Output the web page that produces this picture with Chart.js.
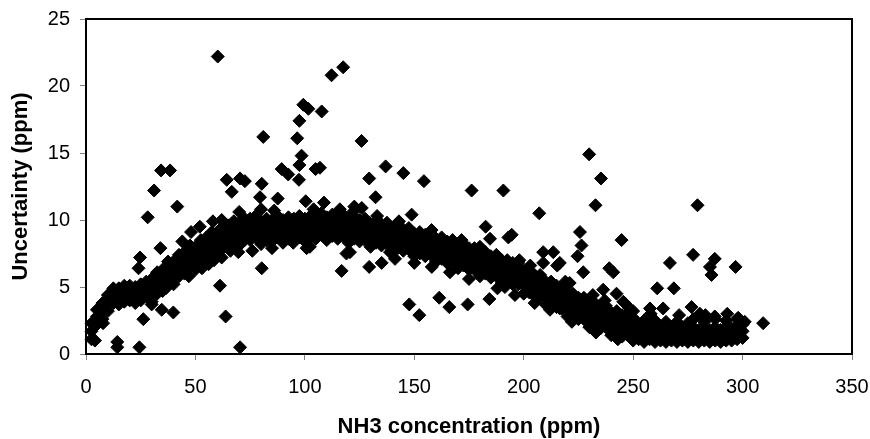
<!DOCTYPE html>
<html>
<head>
<meta charset="utf-8">
<script src="https://cdn.jsdelivr.net/npm/chart.js@4"></script>
<style>
  body { margin: 0; background: #fff; }
  canvas { display: block; }
</style>
</head>
<body>
<canvas id="chart" width="870" height="439"></canvas>
<script>
// axis ticks
const xTicks = [0, 50, 100, 150, 200, 250, 300, 350];
const yTicks = [0, 5, 10, 15, 20, 25];

// main band: [concentration, [uncertainty values read at that concentration]]
const bandRows = [
    [2.5, [1.1, 1.7, 2.3]], [5, [2.2, 2.8, 3.3]], [7.5, [2.6, 3.2, 3.8]], [10, [3.2, 3.8, 4.4]],
    [12.5, [3.8, 4.4, 4.9]], [15, [3.7, 4.3, 4.9]], [17.5, [3.9, 4.5, 5.1]], [20, [4.0, 4.6, 5.1]],
    [22.5, [3.8, 4.4, 5.0]], [25, [4.0, 4.6, 5.2]], [27.5, [4.3, 4.9, 5.4]], [30, [3.9, 4.5, 5.0, 5.6]],
    [32.5, [4.5, 5.0, 5.6, 6.1]], [35, [4.7, 5.2, 5.8, 6.3]], [37.5, [5.3, 5.9, 6.4, 6.9]], [40, [5.2, 5.8, 6.3, 6.9]],
    [42.5, [5.8, 6.3, 6.9, 7.4]], [45, [6.0, 6.5, 7.1, 7.6]], [47.5, [6.5, 7.1, 7.6, 8.1]], [50, [6.3, 6.9, 7.4, 8.0]],
    [52.5, [6.9, 7.4, 8.0, 8.5]], [55, [7.1, 7.6, 8.2, 8.7]], [57.5, [7.5, 8.1, 8.6, 9.1]], [60, [7.4, 8.0, 8.5, 9.1]],
    [62.5, [7.9, 8.4, 9.0, 9.5]], [65, [8.0, 8.5, 9.1, 9.6]], [67.5, [8.3, 8.9, 9.4, 9.9]], [70, [8.1, 8.7, 9.2, 9.8]],
    [72.5, [8.5, 9.0, 9.6, 10.1]], [75, [8.5, 9.0, 9.6, 10.1]], [77.5, [8.7, 9.3, 9.8, 10.3]], [80, [8.2, 8.8, 9.3, 9.9]],
    [82.5, [8.5, 9.0, 9.6, 10.1]], [85, [8.4, 8.9, 9.5, 10.0]], [87.5, [8.7, 9.3, 9.8, 10.3]], [90, [8.3, 8.9, 9.4, 10.0]],
    [92.5, [8.6, 9.1, 9.7, 10.2]], [95, [8.5, 9.0, 9.6, 10.1]], [97.5, [8.7, 9.3, 9.8, 10.3]], [100, [8.4, 9.0, 9.5, 10.1]],
    [102.5, [8.7, 9.2, 9.8, 10.3]], [105, [8.6, 9.1, 9.7, 10.2]], [107.5, [8.9, 9.5, 10.0, 10.5]], [110, [8.5, 9.1, 9.6, 10.2]],
    [112.5, [8.8, 9.3, 9.9, 10.4]], [115, [8.6, 9.1, 9.7, 10.2]], [117.5, [8.8, 9.4, 9.9, 10.4]], [120, [8.3, 8.9, 9.4, 10.0]],
    [122.5, [8.6, 9.1, 9.7, 10.2]], [125, [8.4, 8.9, 9.5, 10.0]], [127.5, [8.5, 9.1, 9.6, 10.1]], [130, [8.0, 8.6, 9.1, 9.7]],
    [132.5, [8.3, 8.8, 9.4, 9.9]], [135, [8.1, 8.6, 9.2, 9.7]], [137.5, [8.2, 8.8, 9.3, 9.8]], [140, [7.7, 8.3, 8.8, 9.4]],
    [142.5, [7.9, 8.4, 9.0, 9.5]], [145, [7.7, 8.2, 8.8, 9.3]], [147.5, [7.8, 8.4, 8.9, 9.4]], [150, [7.3, 7.9, 8.4, 9.0]],
    [152.5, [7.5, 8.0, 8.6, 9.1]], [155, [7.3, 7.8, 8.4, 8.9]], [157.5, [7.4, 8.0, 8.5, 9.0]], [160, [6.9, 7.5, 8.0, 8.6]],
    [162.5, [7.1, 7.6, 8.2, 8.7]], [165, [6.8, 7.3, 7.9, 8.4]], [167.5, [6.9, 7.5, 8.0, 8.5]], [170, [6.4, 7.0, 7.5, 8.1]],
    [172.5, [6.6, 7.1, 7.7, 8.2]], [175, [6.3, 6.8, 7.4, 7.9]], [177.5, [6.3, 6.9, 7.4, 7.9]], [180, [5.8, 6.4, 6.9, 7.5]],
    [182.5, [6.0, 6.5, 7.1, 7.6]], [185, [5.7, 6.2, 6.8, 7.3]], [187.5, [5.8, 6.4, 6.9, 7.4]], [190, [5.3, 5.9, 6.4, 7.0]],
    [192.5, [5.4, 5.9, 6.5, 7.0]], [195, [5.2, 5.7, 6.3, 6.8]], [197.5, [5.2, 5.8, 6.3, 6.8]], [200, [4.5, 5.1, 5.6, 6.2]],
    [202.5, [4.6, 5.1, 5.7, 6.2]], [205, [4.3, 4.8, 5.4, 5.9]], [207.5, [4.3, 4.9, 5.4, 5.9]], [210, [3.7, 4.3, 4.8, 5.4]],
    [212.5, [3.8, 4.3, 4.9, 5.4]], [215, [3.5, 4.0, 4.6, 5.1]], [217.5, [3.4, 4.0, 4.5, 5.0]], [220, [2.8, 3.4, 3.9, 4.5]],
    [222.5, [2.9, 3.4, 4.0, 4.5]], [225, [2.6, 3.1, 3.7, 4.2]], [227.5, [2.6, 3.2, 3.7, 4.2]], [230, [2.0, 2.6, 3.1, 3.7]],
    [232.5, [2.2, 2.7, 3.3, 3.8]], [235, [1.9, 2.4, 3.0, 3.5]], [237.5, [2.0, 2.6, 3.1, 3.6]], [240, [1.4, 2.0, 2.5, 3.1]],
    [242.5, [1.6, 2.1, 2.7, 3.2]], [245, [1.3, 1.8, 2.4, 2.9]], [247.5, [1.4, 2.0, 2.5, 3.0]], [250, [1.0, 1.6, 2.1, 2.7]],
    [252.5, [1.1, 1.6, 2.2]], [255, [0.9, 1.4, 2.0, 2.5]], [257.5, [1.1, 1.7, 2.2]], [260, [0.9, 1.4, 1.9, 2.5]],
    [262.5, [1.0, 1.5, 2.1]], [265, [0.9, 1.3, 1.9, 2.4]], [267.5, [1.0, 1.5, 2.0]], [270, [0.9, 1.2, 1.8, 2.4]],
    [272.5, [1.0, 1.4, 2.0]], [275, [0.9, 1.3, 1.8, 2.3]], [277.5, [1.0, 1.5, 2.0, 2.6]], [280, [0.9, 1.2, 1.8]],
    [282.5, [1.0, 1.4, 1.9, 2.4]], [285, [0.9, 1.3, 1.8]], [287.5, [1.0, 1.5, 2.0, 2.6]], [290, [0.9, 1.3, 1.8]],
    [292.5, [1.0, 1.5, 2.0, 2.5]], [295, [1.0, 1.4, 1.9]], [297.5, [1.1, 1.6, 2.1, 2.6]], [300, [1.2, 1.7, 2.2]]
];

// markers sticking out of the band edges: [concentration, uncertainty]
const edgePoints = [
    [44, 8.4], [58, 9.9], [70, 10.6], [86, 10.7], [104, 10.8], [116, 10.8], [122.6, 11.0],
    [133, 10.3], [143, 9.9], [157.9, 9.25], [171.6, 8.5], [180, 8.0], [198, 7.0], [203, 6.6],
    [208.9, 6.8], [219, 5.4], [237, 4.0], [250, 3.2], [258, 3.0], [271, 2.9], [283, 2.9], [293, 3.0],
    [47, 5.8], [52, 7.0], [62, 7.2], [85, 7.9], [102.3, 8.0], [119, 7.5], [138.9, 7.6], [150, 6.8],
    [158, 6.5], [175, 5.6], [188, 4.9], [196, 4.4], [205, 3.8], [222, 2.4], [233, 1.6], [243, 1.1]
];

// scattered points away from the band: [concentration, uncertainty]
const scatteredPoints = [
    [60.2, 22.2], [117.5, 21.4], [112.2, 20.8], [99.3, 18.6], [101.6, 18.3], [107.7, 18.1],
    [97.5, 17.4], [81.0, 16.2], [96.5, 16.1], [125.9, 15.9], [98.5, 14.8], [97.5, 14.1],
    [104.9, 13.8], [89.4, 13.8], [92.4, 13.4], [97.3, 13.0], [106.9, 13.9], [108.7, 11.3],
    [34.3, 13.7], [38.4, 13.7], [31.1, 12.2], [41.7, 11.0], [28.2, 10.2],
    [64.3, 13.0], [70.4, 13.1], [72.6, 12.9], [66.6, 12.1], [80.3, 12.7], [79.5, 11.7],
    [87.6, 11.6], [100.4, 11.4], [80.3, 6.4], [61.2, 5.1], [63.8, 2.8], [70.4, 0.5],
    [14.3, 0.9], [14.3, 0.5], [24.4, 0.5], [26.2, 2.6], [34.6, 3.3], [39.9, 3.1],
    [36.5, 4.9], [30.0, 3.7], [24.7, 7.2], [69.6, 7.6], [100.8, 7.9], [94.7, 8.3],
    [4.1, 1.0], [7.8, 2.3], [3.3, 2.3], [24.0, 6.4], [34.0, 7.9], [48.0, 9.1], [52.0, 9.5],
    [62.0, 10.0], [53.0, 6.4], [56.0, 6.7], [58.5, 7.0], [66.0, 7.7], [76.0, 7.7], [80.0, 10.8],
    [126.0, 10.9], [122.0, 10.6],
    [136.9, 14.0], [129.4, 13.1], [145.0, 13.5], [154.4, 12.9], [132.3, 11.7],
    [176.2, 12.2], [190.7, 12.2], [207.1, 10.5], [148.8, 10.4],
    [116.8, 6.2], [129.4, 6.5], [135.1, 6.8], [141.2, 7.1], [120.6, 7.6],
    [147.7, 3.7], [152.3, 2.9], [161.4, 4.2], [166.0, 3.5], [174.4, 3.7], [184.3, 4.1],
    [166.3, 6.1], [182.6, 9.5], [184.6, 8.6], [194.5, 8.9], [193.0, 8.7], [191.4, 5.0],
    [208.9, 7.6], [213.5, 7.6], [215.3, 6.6], [212.0, 3.3], [216.5, 3.4],
    [229.9, 14.9], [235.3, 13.1], [232.8, 11.1], [279.4, 11.1], [225.7, 9.1], [226.4, 8.1],
    [224.6, 7.3], [244.7, 8.5], [216.5, 6.8], [227.2, 6.1], [239.1, 6.4], [240.9, 6.1],
    [266.8, 6.8], [277.4, 7.4], [287.3, 7.1], [285.1, 6.5], [285.8, 5.9], [296.8, 6.5],
    [261.0, 4.9], [268.6, 4.9], [309.4, 2.3], [236.3, 4.8], [242.4, 4.5], [246.7, 3.7],
    [245.5, 3.9], [231.6, 4.4], [221.0, 5.3], [276.7, 3.5], [280.5, 3.0], [257.7, 3.4], [263.7, 3.4],
    [287.3, 2.8], [298.0, 2.7], [301.0, 2.4]
];

const points = [];
bandRows.forEach(([x, ys]) => ys.forEach(y => points.push({ x, y })));
edgePoints.forEach(([x, y]) => points.push({ x, y }));
scatteredPoints.forEach(([x, y]) => points.push({ x, y }));

const fontFamily = '"Liberation Sans", Arial, sans-serif';

// box around the plot area (top and right sides)
const plotFrame = {
    id: 'plotFrame',
    afterDraw(chart) {
        const { ctx, chartArea: a } = chart;
        ctx.save();
        ctx.strokeStyle = '#000';
        ctx.lineWidth = 2;
        ctx.strokeRect(a.left, a.top, a.right - a.left, a.bottom - a.top);
        ctx.restore();
    }
};

new Chart(document.getElementById('chart'), {
    type: 'scatter',
    data: {
        datasets: [{
            data: points,
            pointStyle: 'rectRot',
            pointRadius: 6.5,
            pointBorderWidth: 1,
            backgroundColor: '#000',
            borderColor: '#000',
            clip: false
        }]
    },
    options: {
        responsive: false,
        animation: false,
        layout: { padding: { top: 19, right: 18, left: 0, bottom: 0 } },
        plugins: { legend: { display: false }, tooltip: { enabled: false } },
        scales: {
            x: {
                type: 'linear',
                min: xTicks[0],
                max: xTicks[xTicks.length - 1],
                afterBuildTicks: s => { s.ticks = xTicks.map(v => ({ value: v })); },
                afterFit: s => { s.height = 85; s.paddingLeft = 0; s.paddingRight = 0; },
                grid: { drawOnChartArea: false, drawTicks: true, tickLength: 6, color: '#808080' },
                border: { display: true, color: '#000', width: 2 },
                ticks: { color: '#000', padding: 15, font: { family: fontFamily, size: 20 } },
                title: {
                    display: true,
                    text: 'NH3 concentration (ppm)',
                    color: '#000',
                    padding: 0,
                    font: { family: fontFamily, size: 22, weight: 'bold', lineHeight: 1.1 }
                }
            },
            y: {
                type: 'linear',
                min: yTicks[0],
                max: yTicks[yTicks.length - 1],
                afterBuildTicks: s => { s.ticks = yTicks.map(v => ({ value: v })); },
                afterFit: s => { s.width = 86; s.paddingTop = 0; s.paddingBottom = 0; },
                grid: { drawOnChartArea: false, drawTicks: true, tickLength: 6, color: '#808080' },
                border: { display: true, color: '#000', width: 2 },
                ticks: { color: '#000', padding: 10, font: { family: fontFamily, size: 20 } },
                title: {
                    display: true,
                    text: 'Uncertainty (ppm)',
                    color: '#000',
                    padding: { top: 8, bottom: 0 },
                    font: { family: fontFamily, size: 22, weight: 'bold', lineHeight: 1.2 }
                }
            }
        }
    },
    plugins: [plotFrame]
});
</script>
</body>
</html>
